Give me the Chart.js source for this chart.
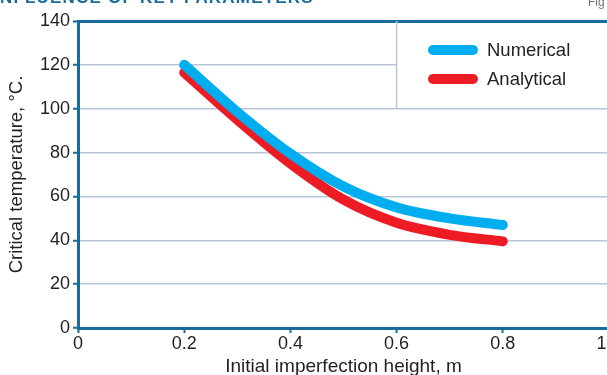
<!DOCTYPE html>
<html>
<head>
<script src="https://cdn.jsdelivr.net/npm/chart.js"></script>
<style>
  html, body { margin: 0; padding: 0; background: #fff; overflow: hidden; }
  .wrap { position: relative; width: 640px; height: 375px; }
  .head { position: absolute; left: -6px; top: -12px; font: bold 17px "Liberation Sans", Arial, sans-serif; color: #1a6c98; letter-spacing: 1.2px; white-space: nowrap; }
  .fig { position: absolute; left: 588px; top: -5px; font: 12px "Liberation Sans", Arial, sans-serif; color: #777; }
</style>
</head>
<body>
<div class="wrap">
  <canvas id="chart" width="640" height="375"></canvas>
  <div class="head">INFLUENCE OF KEY PARAMETERS</div>
  <div class="fig">Fig</div>
</div>
<script>
const heights = [0.2, 0.3, 0.4, 0.5, 0.6, 0.7, 0.8];
const numerical = [120, 98.5, 79.5, 64.5, 55, 50, 47];
const analytical = [116.5, 95, 75, 58.5, 48, 42.5, 39.5];
const seriesNames = ["Numerical", "Analytical"];
const seriesColors = ["#00aeef", "#ed1c24"];

const axisBlue = "#1a6c98";
const gridGrey = "#b9c6d9";
const textCol = "#231f20";
const font = "'Liberation Sans', Arial, sans-serif";

// legend box in the top right corner of the plot
const legendBox = {
  id: "legendBox",
  beforeDatasetsDraw(chart) {
    const ctx = chart.ctx;
    const x = chart.scales.x, y = chart.scales.y;
    const left = x.getPixelForValue(0.6);
    const top = y.getPixelForValue(140);
    const bottom = y.getPixelForValue(100);
    ctx.save();
    ctx.fillStyle = "#fff";
    ctx.fillRect(left, top + 2, chart.width - left, bottom - top - 3);
    ctx.strokeStyle = gridGrey;
    ctx.lineWidth = 1.5;
    ctx.beginPath();
    ctx.moveTo(left, top);
    ctx.lineTo(left, bottom);
    ctx.stroke();
    ctx.restore();
  },
  afterDatasetsDraw(chart) {
    const ctx = chart.ctx;
    ctx.save();
    chart.data.datasets.forEach((ds, i) => {
      const ly = 50 + i * 29;
      ctx.strokeStyle = ds.borderColor;
      ctx.lineWidth = 10;
      ctx.lineCap = "round";
      ctx.beginPath();
      ctx.moveTo(433, ly);
      ctx.lineTo(473, ly);
      ctx.stroke();
      ctx.fillStyle = textCol;
      ctx.font = "18.5px " + font;
      ctx.textBaseline = "middle";
      ctx.fillText(ds.label, 487, ly + 1);
    });
    ctx.restore();
  }
};

new Chart(document.getElementById("chart"), {
  type: "line",
  data: {
    labels: heights,
    datasets: [
      {
        label: seriesNames[0],
        data: heights.map((h, i) => ({ x: h, y: numerical[i] })),
        borderColor: seriesColors[0],
        borderWidth: 10,
        borderCapStyle: "round",
        pointRadius: 0,
        cubicInterpolationMode: "monotone",
        fill: false
      },
      {
        label: seriesNames[1],
        data: heights.map((h, i) => ({ x: h, y: analytical[i] })),
        borderColor: seriesColors[1],
        borderWidth: 10,
        borderCapStyle: "round",
        pointRadius: 0,
        cubicInterpolationMode: "monotone",
        fill: false
      }
    ]
  },
  options: {
    responsive: false,
    animation: false,
    layout: { padding: { top: 21, right: 31, left: 0, bottom: 0 } },
    plugins: { legend: { display: false }, tooltip: { enabled: false } },
    scales: {
      x: {
        type: "linear",
        min: 0,
        max: 1,
        afterFit(scale) { scale.height = 47; },
        ticks: { stepSize: 0.2, color: textCol, font: { family: font, size: 18 }, padding: 0, maxRotation: 0 },
        grid: { drawOnChartArea: false, tickColor: axisBlue, tickLength: 5, tickWidth: 2 },
        border: { color: axisBlue, width: 3 },
        title: { display: true, text: "Initial imperfection height, m", color: textCol, font: { family: font, size: 19 }, padding: { top: 0, bottom: -3 } }
      },
      y: {
        min: 0,
        max: 140,
        afterFit(scale) { scale.width = 78; },
        ticks: { stepSize: 20, color: textCol, font: { family: font, size: 18 }, padding: 3 },
        grid: {
          color: ctx => ctx.tick && ctx.tick.value === 140 ? axisBlue : gridGrey,
          lineWidth: ctx => ctx.tick && ctx.tick.value === 140 ? 3 : 1.5,
          tickColor: axisBlue,
          tickLength: 5,
          tickWidth: 2
        },
        border: { color: axisBlue, width: 3 },
        title: { display: true, text: "Critical temperature, °C.", color: textCol, font: { family: font, size: 18.5 }, padding: { top: 6, bottom: 0 } }
      }
    }
  },
  plugins: [legendBox]
});
</script>
</body>
</html>
